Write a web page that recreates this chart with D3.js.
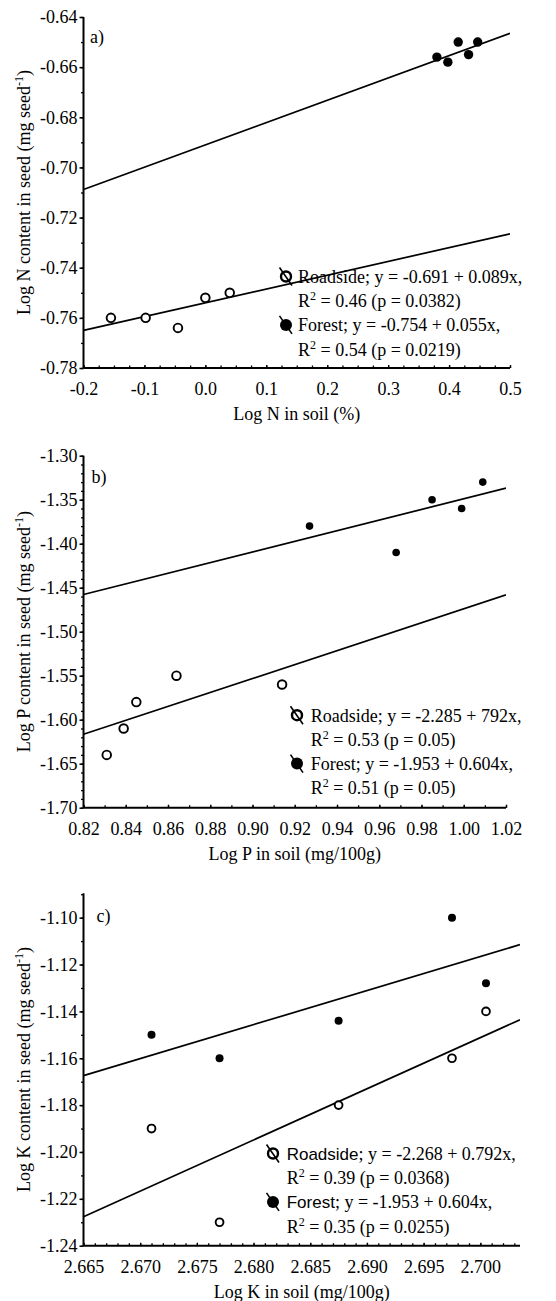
<!DOCTYPE html>
<html>
<head>
<meta charset="utf-8">
<script src="https://cdn.jsdelivr.net/npm/d3@7/dist/d3.min.js"></script>
<style>
    body { margin: 0; background: #fff; }
    svg text { font-family: "Liberation Serif", "Times New Roman", serif; fill: #000; }
    .sans { font-family: "Liberation Sans", Arial, sans-serif; }
</style>
</head>
<body>
<div id="chart"></div>
<script>
// ---- panel a: nitrogen ----
const nSoilForest = [0.380, 0.398, 0.415, 0.432, 0.447];
const nSeedForest = [-0.656, -0.658, -0.650, -0.655, -0.650];
const nSoilRoadside = [-0.155, -0.098, -0.045, 0.000, 0.040];
const nSeedRoadside = [-0.760, -0.760, -0.764, -0.752, -0.750];
// fitted lines [intercept, slope]
const nFits = [[-0.691, 0.089], [-0.754, 0.055]];
const nXTicks = [-0.2, -0.1, 0.0, 0.1, 0.2, 0.3, 0.4, 0.5];
const nYTicks = [-0.78, -0.76, -0.74, -0.72, -0.70, -0.68, -0.66, -0.64];
const nLegend = [
    ["Roadside", "; y = -0.691 + 0.089x,", "0.46", "0.0382"],
    ["Forest", "; y = -0.754 + 0.055x,", "0.54", "0.0219"]
];

// ---- panel b: phosphorus ----
const pSoilForest = [0.927, 0.968, 0.985, 0.999, 1.009];
const pSeedForest = [-1.38, -1.41, -1.35, -1.36, -1.33];
const pSoilRoadside = [0.831, 0.839, 0.845, 0.864, 0.914];
const pSeedRoadside = [-1.64, -1.61, -1.58, -1.55, -1.56];
const pFits = [[-1.953, 0.604], [-2.266, 0.792]];
const pXTicks = [0.82, 0.84, 0.86, 0.88, 0.90, 0.92, 0.94, 0.96, 0.98, 1.00, 1.02];
const pYTicks = [-1.70, -1.65, -1.60, -1.55, -1.50, -1.45, -1.40, -1.35, -1.30];
const pLegend = [
    ["Roadside", "; y = -2.285 + 792x,", "0.53", "0.05"],
    ["Forest", "; y = -1.953 + 0.604x,", "0.51", "0.05"]
];

// ---- panel c: potassium ----
const kSoilForest = [2.671, 2.677, 2.6875, 2.6975, 2.7005];
const kSeedForest = [-1.150, -1.160, -1.144, -1.100, -1.128];
const kSoilRoadside = [2.671, 2.677, 2.6875, 2.6975, 2.7005];
const kSeedRoadside = [-1.190, -1.230, -1.180, -1.160, -1.140];
const kFits = [[-5.037, 1.452], [-7.048, 2.184]];
const kXTicks = [2.665, 2.670, 2.675, 2.680, 2.685, 2.690, 2.695, 2.700];
const kYTicks = [-1.24, -1.22, -1.20, -1.18, -1.16, -1.14, -1.12, -1.10];
const kLegend = [
    ["Roadside", "; y = -2.268 + 0.792x,", "0.39", "0.0368"],
    ["Forest", "; y = -1.953 + 0.604x,", "0.35", "0.0255"]
];

const W = 556, H = 1301;

const svg = d3.select("#chart").append("svg")
    .attr("width", W)
    .attr("height", H)
    .style("display", "block");

svg.append("rect").attr("width", W).attr("height", H).attr("fill", "#fff");

const panels = [
    {
        tag: "a)", top: 17, bottom: 368, left: 83.5, right: 510,
        xDomain: [-0.2, 0.5], yDomain: [-0.78, -0.64],
        xTicks: nXTicks, yTicks: nYTicks, xDec: 1, yDec: 2,
        xMinor: 0.025, yMinor: 0.01,
        forest: [nSoilForest, nSeedForest], roadside: [nSoilRoadside, nSeedRoadside],
        fits: nFits, legend: nLegend, legendSans: false,
        rFill: 4.7, rOpen: 4.3,
        legX: 298, legY: 283, legMarkX: 286,
        xTitle: "Log N in soil (%)", yTitle: "Log N content in seed (mg seed",
        tagX: 90, tagY: 43
    },
    {
        tag: "b)", top: 455.7, bottom: 807.7, left: 83.5, right: 506,
        xDomain: [0.82, 1.02], yDomain: [-1.70, -1.30],
        xTicks: pXTicks, yTicks: pYTicks, xDec: 2, yDec: 2,
        xMinor: 0.01, yMinor: 0.01,
        forest: [pSoilForest, pSeedForest], roadside: [pSoilRoadside, pSeedRoadside],
        fits: pFits, legend: pLegend, legendSans: false,
        rFill: 3.8, rOpen: 4.3,
        legX: 310.7, legY: 721.7, legMarkX: 297,
        xTitle: "Log P in soil (mg/100g)", yTitle: "Log P content in seed (mg seed",
        tagX: 91.5, tagY: 483
    },
    {
        tag: "c)", top: 893.3, bottom: 1245.7, left: 83.5, right: 520,
        xDomain: [2.665, 2.7035], yDomain: [-1.24, -1.0896],
        xTicks: kXTicks, yTicks: kYTicks, xDec: 3, yDec: 2,
        xMinor: 0.001, yMinor: 0.01,
        forest: [kSoilForest, kSeedForest], roadside: [kSoilRoadside, kSeedRoadside],
        fits: kFits, legend: kLegend, legendSans: true,
        rFill: 4.0, rOpen: 3.9,
        legX: 286.7, legY: 1160, legMarkX: 273,
        xTitle: "Log K in soil (mg/100g)", yTitle: "Log K content in seed (mg seed",
        tagX: 96.5, tagY: 921.7
    }
];

panels.forEach(drawPanel);

function drawPanel(p) {
    let g = svg.append("g");

    let x = d3.scaleLinear().domain(p.xDomain).range([p.left, p.right]);
    let y = d3.scaleLinear().domain(p.yDomain).range([p.bottom, p.top]);

    let xMinorVals = d3.range(p.xDomain[0], p.xDomain[1] + 1e-9, p.xMinor);
    let yMinorVals = d3.range(p.yDomain[0], p.yDomain[1] + 1e-9, p.yMinor);

    // minor ticks (no labels)
    g.append("g")
        .attr("transform", `translate(0,${p.bottom})`)
        .call(d3.axisBottom(x).tickValues(xMinorVals).tickSize(-2.5).tickFormat(""))
        .call(a => a.select(".domain").remove())
        .selectAll("line").attr("stroke-width", 1.3);

    g.append("g")
        .attr("transform", `translate(${p.left},0)`)
        .call(d3.axisLeft(y).tickValues(yMinorVals).tickSize(2.5).tickFormat(""))
        .call(a => a.select(".domain").remove())
        .selectAll("line").attr("stroke-width", 1.3);

    // major axes
    let xAxis = g.append("g")
        .attr("transform", `translate(0,${p.bottom})`)
        .call(d3.axisBottom(x).tickValues(p.xTicks).tickSize(-3).tickPadding(10)
            .tickFormat(d => d.toFixed(p.xDec)));
    xAxis.select(".domain").attr("d", `M${p.left},0H${p.right}`).attr("stroke-width", 2);
    xAxis.selectAll("line").attr("stroke-width", 1.3);
    xAxis.selectAll("text").attr("font-size", 18).attr("dy", "0.95em")
        .attr("font-family", "Liberation Serif, serif");

    let yAxis = g.append("g")
        .attr("transform", `translate(${p.left},0)`)
        .call(d3.axisLeft(y).tickValues(p.yTicks).tickSize(4).tickPadding(2)
            .tickFormat(d => d.toFixed(p.yDec)));
    yAxis.select(".domain").attr("d", `M0,${p.top}V${p.bottom}`).attr("stroke-width", 2);
    yAxis.selectAll("line").attr("stroke-width", 1.5);
    yAxis.selectAll("text").attr("font-size", 18).attr("font-family", "Liberation Serif, serif");

    // axis titles
    g.append("text")
        .attr("x", (p.left + p.right) / 2)
        .attr("y", p.bottom + 52)
        .attr("text-anchor", "middle")
        .attr("font-size", 18)
        .text(p.xTitle);

    let yt = g.append("text")
        .attr("transform", `translate(30,${(p.top + p.bottom) / 2}) rotate(-90)`)
        .attr("text-anchor", "middle")
        .attr("font-size", 18);
    yt.append("tspan").text(p.yTitle);
    yt.append("tspan").attr("font-size", 12).attr("dy", -7).text("-1");
    yt.append("tspan").attr("dy", 7).text(")");

    // panel tag
    g.append("text")
        .attr("x", p.tagX)
        .attr("y", p.tagY)
        .attr("font-size", 18)
        .text(p.tag);

    // fit lines
    let clipId = "clip" + p.tag[0];
    svg.append("clipPath").attr("id", clipId)
        .append("rect")
        .attr("x", p.left).attr("y", p.top)
        .attr("width", p.right - p.left).attr("height", p.bottom - p.top);

    g.append("g").attr("clip-path", `url(#${clipId})`)
        .selectAll("line.fit")
        .data(p.fits)
        .enter().append("line")
        .attr("class", "fit")
        .attr("x1", x(p.xDomain[0]))
        .attr("y1", d => y(d[0] + d[1] * p.xDomain[0]))
        .attr("x2", x(p.xDomain[1]))
        .attr("y2", d => y(d[0] + d[1] * p.xDomain[1]))
        .attr("stroke", "#000")
        .attr("stroke-width", 1.7);

    // points
    let forestPts = p.forest[0].map((v, i) => [v, p.forest[1][i]]);
    let roadPts = p.roadside[0].map((v, i) => [v, p.roadside[1][i]]);

    g.selectAll("circle.road")
        .data(roadPts)
        .enter().append("circle")
        .attr("class", "road")
        .attr("cx", d => x(d[0]))
        .attr("cy", d => y(d[1]))
        .attr("r", p.rOpen)
        .attr("fill", "#fff")
        .attr("stroke", "#000")
        .attr("stroke-width", 1.9);

    g.selectAll("circle.forest")
        .data(forestPts)
        .enter().append("circle")
        .attr("class", "forest")
        .attr("cx", d => x(d[0]))
        .attr("cy", d => y(d[1]))
        .attr("r", p.rFill)
        .attr("fill", "#000");

    // legend
    let lineGap = 24.2;
    p.legend.forEach((item, i) => {
        let by = p.legY + i * 2 * lineGap;
        let my = by - 6.5;

        // marker: circle with a slash through it
        g.append("line")
            .attr("x1", p.legMarkX - 6.5).attr("y1", my - 9)
            .attr("x2", p.legMarkX + 6).attr("y2", my + 9)
            .attr("stroke", "#000").attr("stroke-width", 1.6);
        g.append("circle")
            .attr("cx", p.legMarkX).attr("cy", my)
            .attr("r", i === 0 ? 5 : 6)
            .attr("fill", i === 0 ? "none" : "#000")
            .attr("stroke", "#000")
            .attr("stroke-width", i === 0 ? 2.4 : 0);

        let t1 = g.append("text")
            .attr("x", p.legX).attr("y", by)
            .attr("font-size", 18);
        t1.append("tspan")
            .attr("class", p.legendSans ? "sans" : null)
            .attr("font-size", p.legendSans ? 17 : 18)
            .text(item[0]);
        t1.append("tspan").text(item[1]);

        let t2 = g.append("text")
            .attr("x", p.legX).attr("y", by + lineGap)
            .attr("font-size", 18);
        t2.append("tspan").text("R");
        t2.append("tspan").attr("font-size", 12).attr("dy", -7).text("2");
        t2.append("tspan").attr("dy", 7).text(` = ${item[2]} (p = ${item[3]})`);
    });
}
</script>
</body>
</html>
